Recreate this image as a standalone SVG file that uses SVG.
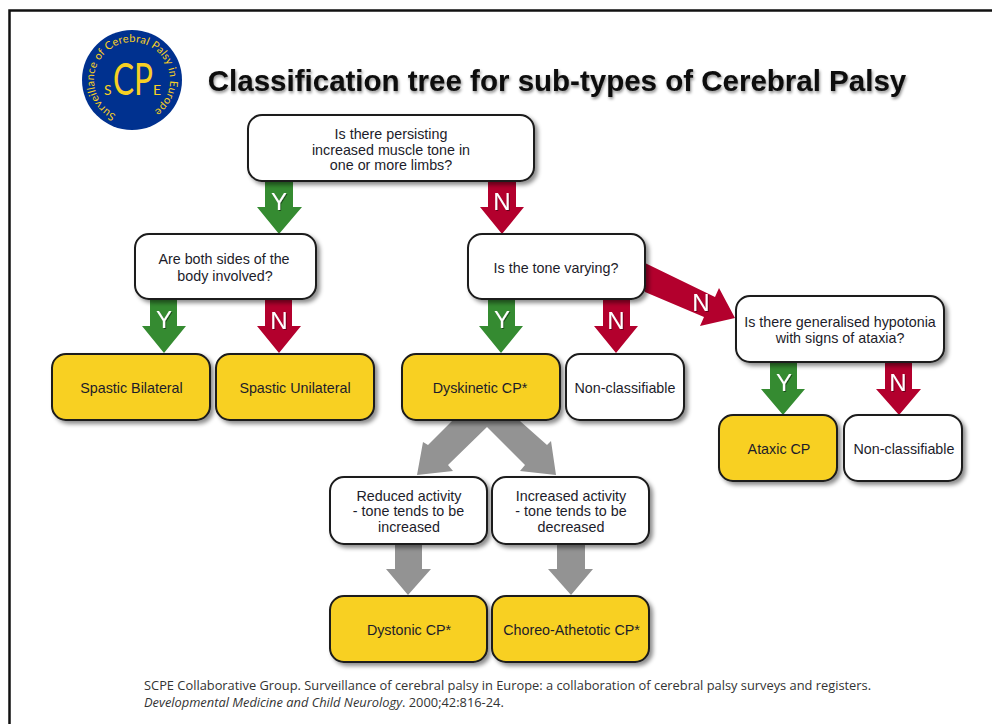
<svg xmlns="http://www.w3.org/2000/svg" width="992" height="724" viewBox="0 0 992 724">
<style>
text{font-family:"Liberation Sans",Arial,sans-serif}
.b{stroke:#1a1a1a;stroke-width:2;filter:url(#sh)}
.w{fill:#fff}.o{fill:#f8d023}
.t{font-size:14.300px;text-anchor:middle;fill:#1c1c2a}
.l{font-size:24px;text-anchor:middle;fill:#fff;filter:url(#ls)}
.g{fill:#358b31}.r{fill:#b3002d}.y{fill:#939393}
.c{font-family:"Open Sans","Noto Sans",sans-serif;font-size:12.850px;fill:#333}
.m{fill:#f8d023;font-family:Lato,"Liberation Sans",sans-serif}
</style>
<defs>
<filter id="sh" x="-10%" y="-10%" width="125%" height="130%"><feDropShadow dx="3" dy="3" stdDeviation="2" flood-color="#000" flood-opacity=".45"/></filter>
<filter id="ts" x="-5%" y="-20%" width="110%" height="150%"><feDropShadow dx="1" dy="2" stdDeviation="1.600" flood-color="#000" flood-opacity=".45"/></filter>
<filter id="ls" x="-30%" y="-30%" width="170%" height="170%"><feDropShadow dx="1" dy="1" stdDeviation=".7" flood-color="#000" flood-opacity=".45"/></filter>
<path id="a1" d="M116 114.500A38 38 0 1 1 148 114.500"/>
</defs>
<rect width="992" height="724" fill="#fff"/>
<path d="M9.500 724V10.500H992" fill="none" stroke="#111" stroke-width="2.500"/>
<g id="logo">
<circle cx="132" cy="80" r="50" fill="#00318f"/>
<text class="m" font-size="11" letter-spacing=".2"><textPath href="#a1">Surveillance of Cerebral Palsy in Europe</textPath></text>
<text class="m" x="113" y="95" font-size="44" textLength="40" lengthAdjust="spacingAndGlyphs">CP</text>
<text class="m" x="104" y="95" font-size="14">S</text>
<text class="m" x="153" y="95" font-size="14">E</text>
</g>
<text id="title" x="557" y="91" font-size="29.500" font-weight="700" text-anchor="middle" fill="#0a0a0a" filter="url(#ts)">Classification tree for sub-types of Cerebral Palsy</text>
<g id="connectors">
<path class="g" d="M265 181h28v26h9l-23 27-22-27h8z"/>
<path class="r" d="M488 181h28v26h8l-22 27-22-27h8z"/>
<path class="g" d="M150 299h27v27h9l-22 27-22-27h8z"/>
<path class="r" d="M265 299h27v27h9l-22 27-22-27h8z"/>
<path class="g" d="M488 299h27v27h8l-22 27-22-27h9z"/>
<path class="r" d="M603 299h27v27h8l-22 27-22-27h9z"/>
<path class="g" d="M770 362h27v27h8l-22 26-22-26h9z"/>
<path class="r" d="M885 362h27v27h9l-22 26-23-26h9z"/>
<path class="r" d="M645 263L715 297L719 288L735 318L700 326L704 317L645 292z"/>
<path class="y" d="M452 421L428 445L423 442L417 475L453 471L448 465L487 427L525 465L520 471L556 475L551 441L547 445L520 421z"/>
<path class="y" d="M395 544h27v25h9l-23 26-22-26h9z"/>
<path class="y" d="M557 544h28v25h8l-22 26-23-26h9z"/>
</g>
<g id="labels">
<text class="l" x="279" y="210">Y</text>
<text class="l" x="502" y="210">N</text>
<text class="l" x="164" y="328">Y</text>
<text class="l" x="279" y="329">N</text>
<text class="l" x="502" y="328">Y</text>
<text class="l" x="616" y="329">N</text>
<text class="l" x="701" y="311">N</text>
<text class="l" x="784" y="391">Y</text>
<text class="l" x="898" y="391">N</text>
</g>
<g id="q1"><rect class="b w" x="248" y="115" width="286" height="66" rx="14"/><text class="t" x="391" y="138.500">Is there persisting</text><text class="t" x="391" y="154.500">increased muscle tone in</text><text class="t" x="391" y="170">one or more limbs?</text></g>
<g id="q2"><rect class="b w" x="135" y="234" width="181" height="65" rx="14"/><text class="t" x="224" y="264">Are both sides of the</text><text class="t" x="225" y="281">body involved?</text></g>
<g id="q3"><rect class="b w" x="468" y="234" width="177" height="65" rx="14"/><text class="t" x="556" y="273">Is the tone varying?</text></g>
<g id="q4"><rect class="b w" x="736" y="296" width="208" height="66" rx="14"/><text class="t" x="840" y="327">Is there generalised hypotonia</text><text class="t" x="840" y="342.500">with signs of ataxia?</text></g>
<g id="n1"><rect class="b o" x="52" y="354" width="158" height="66" rx="14"/><text class="t" x="131.500" y="393">Spastic Bilateral</text></g>
<g id="n2"><rect class="b o" x="216" y="354" width="158" height="66" rx="14"/><text class="t" x="295" y="393">Spastic Unilateral</text></g>
<g id="n3"><rect class="b o" x="402" y="354" width="158" height="66" rx="14"/><text class="t" x="480" y="393">Dyskinetic CP*</text></g>
<g id="n4"><rect class="b w" x="566" y="354" width="118" height="66" rx="14"/><text class="t" x="625" y="393">Non-classifiable</text></g>
<g id="n5"><rect class="b o" x="719" y="415" width="118" height="66" rx="14"/><text class="t" x="779" y="454">Ataxic CP</text></g>
<g id="n6"><rect class="b w" x="844" y="415" width="118" height="66" rx="14"/><text class="t" x="904" y="454">Non-classifiable</text></g>
<g id="n7"><rect class="b w" x="330" y="477" width="157" height="67" rx="14"/><text class="t" x="409" y="500.500">Reduced activity</text><text class="t" x="408.500" y="516">- tone tends to be</text><text class="t" x="409" y="532">increased</text></g>
<g id="n8"><rect class="b w" x="492" y="477" width="157" height="67" rx="14"/><text class="t" x="571" y="500.500">Increased activity</text><text class="t" x="571" y="516">- tone tends to be</text><text class="t" x="571" y="532">decreased</text></g>
<g id="n9"><rect class="b o" x="330" y="596" width="157" height="66" rx="14"/><text class="t" x="409" y="635">Dystonic CP*</text></g>
<g id="n10"><rect class="b o" x="492" y="596" width="157" height="66" rx="14"/><text class="t" x="571.500" y="635">Choreo-Athetotic CP*</text></g>
<g id="citation">
<text class="c" x="144" y="690">SCPE Collaborative Group. Surveillance of cerebral palsy in Europe: a collaboration of cerebral palsy surveys and registers.</text>
<text class="c" x="144" y="707"><tspan font-style="italic">Developmental Medicine and Child Neurology</tspan>. 2000;42:816-24.</text>
</g>
</svg>
